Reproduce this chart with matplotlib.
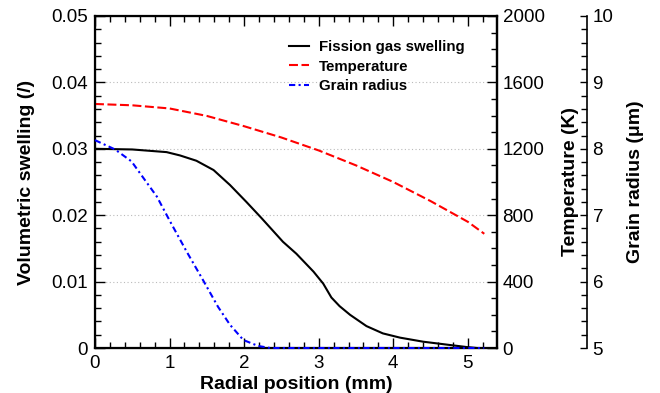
import matplotlib
matplotlib.use("Agg")
import matplotlib.pyplot as plt
from matplotlib.ticker import MultipleLocator, FixedLocator, FixedFormatter

plt.rcParams['font.family'] = ['Liberation Sans', 'DejaVu Sans']

# ---- data ----
swell_x = [0, 0.5, 0.96, 1.14, 1.36, 1.59, 1.81, 2.03, 2.23, 2.52, 2.70, 2.93, 3.06,
           3.17, 3.28, 3.42, 3.64, 3.86, 4.09, 4.40, 4.76, 4.98, 5.12]
swell_y = [0.0300, 0.0299, 0.0295, 0.0290, 0.0282, 0.0268, 0.02455, 0.0220, 0.0196,
           0.0160, 0.0142, 0.0115, 0.0097, 0.0076, 0.0063, 0.0050, 0.0033, 0.0022,
           0.00156, 0.00095, 0.00045, 0.00015, 0.0]

temp_x = [0, 0.5, 1.0, 1.5, 2.0, 2.5, 3.0, 3.5, 4.0, 4.5, 5.0, 5.22]
temp_y = [1470, 1462, 1443, 1398, 1336, 1268, 1190, 1100, 1000, 885, 760, 688]

grain_x = [0, 0.27, 0.49, 0.65, 0.83, 1.01, 1.23, 1.45, 1.65, 1.81, 1.99, 2.19,
           2.35, 3.0, 4.0, 5.22]
grain_y = [8.13, 7.99, 7.81, 7.56, 7.28, 6.90, 6.45, 6.02, 5.62, 5.35, 5.12, 5.03,
           5.0, 5.0, 5.0, 5.0]

x_ticks = [0, 1, 2, 3, 4, 5]
swell_ticks = [0, 0.01, 0.02, 0.03, 0.04, 0.05]
swell_ticklabels = ['0', '0.01', '0.02', '0.03', '0.04', '0.05']
temp_ticks = [0, 400, 800, 1200, 1600, 2000]
grain_ticks = [5, 6, 7, 8, 9, 10]

labels = ['Fission gas swelling', 'Temperature', 'Grain radius']

# ---- figure ----
fig = plt.figure(figsize=(6.6, 3.93), dpi=100)
ax = fig.add_axes([0.1439, 0.1145, 0.6091, 0.8448])
ax2 = ax.twinx()
ax3 = ax.twinx()

TFS = 13.5
LFS = 14

ax.set_xlim(0, 5.39)
ax.set_ylim(0, 0.05)
ax.xaxis.set_major_locator(FixedLocator(x_ticks))
ax.xaxis.set_minor_locator(MultipleLocator(0.2))
ax.yaxis.set_major_locator(FixedLocator(swell_ticks))
ax.yaxis.set_major_formatter(FixedFormatter(swell_ticklabels))
ax.yaxis.set_minor_locator(MultipleLocator(0.002))
ax.tick_params(axis='both', which='both', direction='in', top=True, right=False,
               labelsize=TFS, width=1.0)
ax.tick_params(axis='both', which='major', length=7, pad=5)
ax.tick_params(axis='both', which='minor', length=4)
for s in ax.spines.values():
    s.set_linewidth(1.6)
for v in swell_ticks[1:-1]:
    ax.axhline(v, color='#bbbbbb', lw=0.8, ls=(0, (1, 2.2)), zorder=0)

ax.set_xlabel('Radial position (mm)', fontsize=LFS, fontweight='bold', labelpad=3)
ax.set_ylabel('Volumetric swelling (/)', fontsize=LFS, fontweight='bold', labelpad=12)

ax2.set_ylim(0, 2000)
ax2.yaxis.set_major_locator(FixedLocator(temp_ticks))
ax2.yaxis.set_minor_locator(MultipleLocator(100))
ax2.tick_params(axis='y', which='both', direction='in', labelsize=TFS, width=1.0)
ax2.tick_params(axis='y', which='major', length=7, pad=4)
ax2.tick_params(axis='y', which='minor', length=4)
ax2.set_ylabel('Temperature (K)', fontsize=LFS, fontweight='bold', labelpad=12.5)
ax2.spines['right'].set_linewidth(1.6)

ax3.set_ylim(5, 10)
ax3.spines['right'].set_position(('axes', 1.224))
for k in ['top', 'bottom', 'left']:
    ax3.spines[k].set_visible(False)
ax3.spines['right'].set_linewidth(1.2)
ax3.yaxis.set_major_locator(FixedLocator(grain_ticks))
ax3.yaxis.set_minor_locator(MultipleLocator(0.2))
ax3.tick_params(axis='y', which='both', direction='in', labelsize=TFS, width=1.0)
ax3.tick_params(axis='y', which='major', length=5, pad=4)
ax3.tick_params(axis='y', which='minor', length=4)
ax3.set_ylabel('Grain radius (\u03bcm)', fontsize=LFS, fontweight='bold', labelpad=10)

l1, = ax.plot(swell_x, swell_y, color='black', lw=1.5, label=labels[0])
l2, = ax2.plot(temp_x, temp_y, color='red', lw=1.5, dashes=(4.3, 1.7), label=labels[1])
l3, = ax3.plot(grain_x, grain_y, color='blue', lw=1.5, dashes=(3, 1.6, 1, 1.6),
               label=labels[2], clip_on=False)

leg = ax.legend(handles=[l1, l2, l3], loc='upper left', bbox_to_anchor=(0.483, 0.928),
                frameon=False, prop={'size': 10.8, 'weight': 'bold'},
                handlelength=1.3, handletextpad=0.7, labelspacing=0.38,
                borderpad=0, borderaxespad=0)

fig.savefig('out.png', dpi=100)
